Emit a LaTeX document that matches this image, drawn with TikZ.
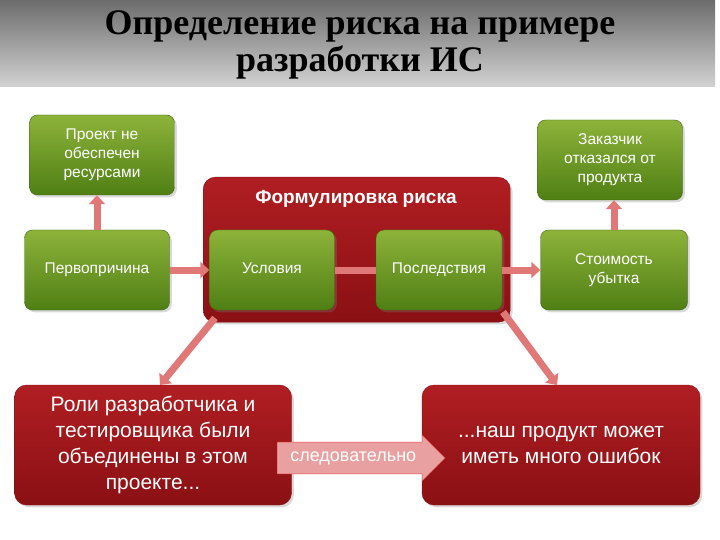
\documentclass[tikz,border=0pt]{standalone}
\usepackage{fontspec}
\setmainfont{Liberation Serif}
\newfontfamily\boxfont{Liberation Sans}
\usetikzlibrary{shapes.arrows,arrows.meta,shadows}
\definecolor{gtop}{HTML}{8DB33A}
\definecolor{gbot}{HTML}{4F7F14}
\definecolor{rtop}{HTML}{B01E22}
\definecolor{rbot}{HTML}{8A1014}
\definecolor{arr}{HTML}{E07878}
\tikzset{
 gbox/.style={rounded corners=8pt,top color=gtop,bottom color=gbot,draw=gbot!80!black,
   drop shadow={opacity=0.3},text=white,font=\boxfont\fontsize{15.5}{19}\selectfont,align=center,inner sep=0pt},
 rbox/.style={rounded corners=12pt,top color=rtop,bottom color=rbot,draw=rbot,
   drop shadow={opacity=0.3},text=white,align=center,inner sep=0pt},
 blk/.style={draw=arr!70!red,line width=7pt,-{Triangle[length=9pt,width=16pt]},color=arr}
}
\begin{document}
\begin{tikzpicture}[x=1pt,y=-1pt]
\useasboundingbox (0,0) rectangle (720,540);
\fill[top color=gray!85!black,bottom color=gray!35] (0,0) rectangle (715,87);
\node[font=\bfseries\fontsize{36}{37}\selectfont,align=center] (title) at (360,45) {Определение риска на примере\\разработки ИС};
% big red
\node[rbox,minimum width=307pt,minimum height=145pt,anchor=north west] (form) at (203,177) {};
\node[text=white,font=\boxfont\bfseries\fontsize{19}{22}\selectfont] (formt) at (356,199) {Формулировка риска};
% green boxes
\node[gbox,minimum width=145pt,minimum height=80pt] (proj) at (102,155) {Проект не\\обеспечен\\ресурсами};
\node[gbox,minimum width=145pt,minimum height=80pt] (cause) at (97,270) {Первопричина\strut};
\node[gbox,minimum width=125pt,minimum height=80pt] (cond) at (272,270) {Условия\strut};
\node[gbox,minimum width=126pt,minimum height=80pt] (cons) at (439,270) {Последствия\strut};
\node[gbox,minimum width=145pt,minimum height=80pt] (cust) at (610,160) {Заказчик\\отказался от\\продукта};
\node[gbox,minimum width=147pt,minimum height=80pt] (cost) at (614,270) {Стоимость\\убытка};
% bottom red
\node[rbox,minimum width=277pt,minimum height=120pt,font=\boxfont\fontsize{21}{26}\selectfont] (roles) at (153,445) {Роли разработчика и\\тестировщика были\\объединены в этом\\проекте...};
\node[rbox,minimum width=278pt,minimum height=120pt,font=\boxfont\fontsize{21}{26}\selectfont] (prod) at (561,445) {...наш продукт может\\иметь много ошибок};
% arrows
\draw[blk] (cause.north) ++(0,0) coordinate (c1) -- (c1 |- proj.south);
\draw[blk] (cost.north) ++(0,0) coordinate (c2) -- (c2 |- cust.south);
\draw[blk] (cause.east) -- (cond.west);
\draw[blk,-] (cond.east) -- (cons.west);
\draw[blk] (cons.east) -- (cost.west);
\coordinate (d1) at (215,318);
\coordinate (d2) at (503,312);
\draw[blk] (d1) -- (160,385);
\draw[blk] (d2) -- (557,385);
\node[single arrow,draw=arr!60!red,fill=arr!70!white,minimum height=168pt,minimum width=46pt,
  single arrow head extend=4pt,inner sep=2pt,text=white,font=\boxfont\fontsize{18}{20}\selectfont,anchor=west] (then) at (277,458) {следовательно\hspace{8pt}};
\end{tikzpicture}
\end{document}
